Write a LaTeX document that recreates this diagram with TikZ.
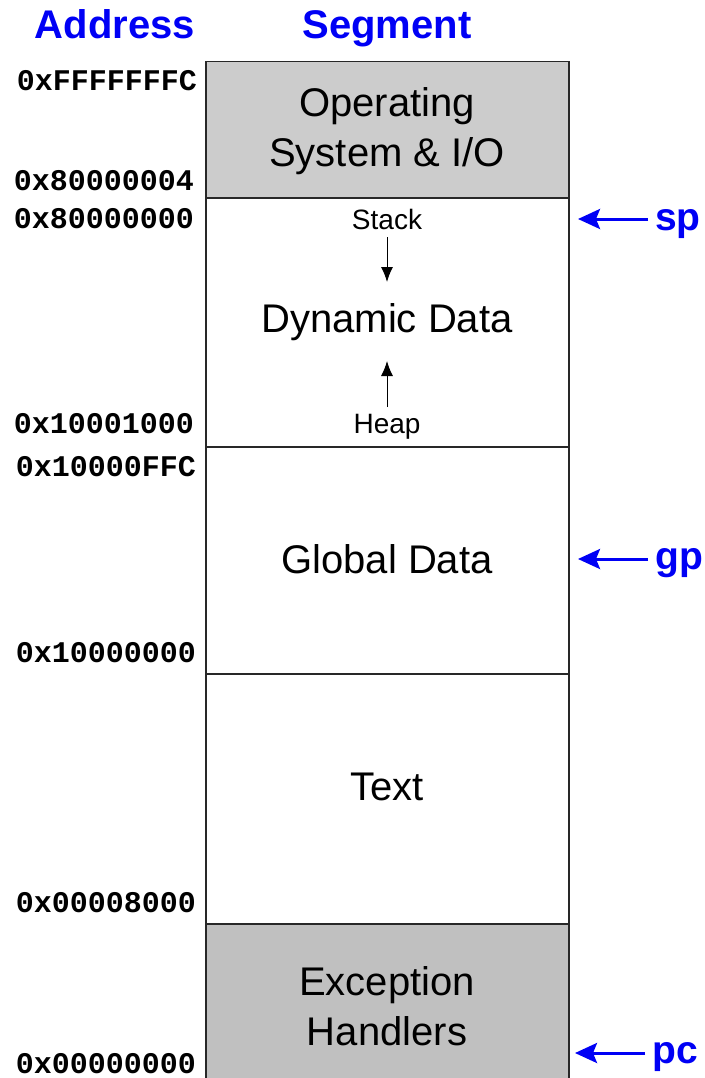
\documentclass[tikz,border=0pt]{standalone}
\usepackage{fontspec}
\setmainfont{Liberation Sans}
\setmonofont{Liberation Mono}
\usepackage{tikz}
\usetikzlibrary{arrows.meta, positioning}
\definecolor{headblue}{RGB}{0, 0, 245}
\definecolor{osgray}{RGB}{204, 204, 204}
\definecolor{excgray}{RGB}{192, 192, 192}
\definecolor{edgegray}{RGB}{40, 40, 40}

\begin{document}
\begin{tikzpicture}[
    x=1pt, y=-1pt,
    header/.style={text=headblue, anchor=base, inner sep=0pt, font=\fontsize{40}{44}\selectfont\bfseries},
    addr/.style={anchor=base east, inner sep=0pt, font=\fontsize{30}{32}\selectfont\ttfamily\bfseries},
    segment/.style={rectangle, draw=edgegray, line width=1.5pt, minimum width=363pt, anchor=north west, inner sep=0pt},
    seglabel/.style={anchor=base, inner sep=0pt, align=center, font=\fontsize{40}{50}\selectfont},
    small/.style={anchor=base, inner sep=0pt, font=\fontsize{28}{30}\selectfont},
    growarrow/.style={-{Latex[length=15pt, width=12pt]}, line width=1pt},
    reg/.style={text=headblue, anchor=base west, inner sep=0pt, font=\fontsize{39}{42}\selectfont\bfseries},
    ptr/.style={-{Stealth[length=22pt, width=20pt, inset=4pt]}, draw=headblue, line width=3pt}
]
    \useasboundingbox (0,0) rectangle (704,1078);

    % Column headers
    \node (haddr) [header] at (115,39) {Address};
    \node (hseg) [header] at (387,39) {Segment};

    % Segments
    \node (os) [segment, fill=osgray, minimum height=136pt] at (205,61) {};
    \node (dyn) [segment, minimum height=249pt] at (205,197) {};
    \node (glob) [segment, minimum height=227pt] at (205,446) {};
    \node (text) [segment, minimum height=250pt] at (205,673) {};
    \node (exc) [segment, fill=excgray, minimum height=170pt] at (205,923) {};

    % Segment labels (base = last line)
    \node (oslabel) [seglabel] at (387,167) {Operating\\System \& I/O};
    \node (dynlabel) [seglabel] at (387,332) {Dynamic Data};
    \node (globlabel) [seglabel] at (387,573) {Global Data};
    \node (textlabel) [seglabel] at (387,800) {Text};
    \node (exclabel) [seglabel] at (387,1045) {Exception\\Handlers};

    % Stack and heap
    \node (stack) [small] at (387,229) {Stack};
    \node (heap) [small] at (387,433) {Heap};
    \coordinate (stacktop) at (387,237);
    \coordinate (stackend) at (387,282);
    \coordinate (heapbot) at (387,407);
    \coordinate (heapend) at (387,361);
    \draw [growarrow] (stacktop) -- (stackend);
    \draw [growarrow] (heapbot) -- (heapend);

    % Addresses
    \node (a1) [addr] at (197,91) {0xFFFFFFFC};
    \node (a2) [addr] at (194,190) {0x80000004};
    \node (a3) [addr] at (194,228) {0x80000000};
    \node (a4) [addr] at (194,433) {0x10001000};
    \node (a5) [addr] at (196,476) {0x10000FFC};
    \node (a6) [addr] at (196,662) {0x10000000};
    \node (a7) [addr] at (196,912) {0x00008000};
    \node (a8) [addr] at (196,1073) {0x00000000};

    % Register pointers
    \node (sp) [reg] at (655,230) {sp};
    \node (gp) [reg] at (655,569) {gp};
    \node (pc) [reg] at (652,1063) {pc};
    \coordinate (sptail) at (648,219);
    \coordinate (sptip) at (578,219);
    \coordinate (gptail) at (648,559);
    \coordinate (gptip) at (578,559);
    \coordinate (pctail) at (645,1053);
    \coordinate (pctip) at (575,1053);
    \draw [ptr] (sptail) -- (sptip);
    \draw [ptr] (gptail) -- (gptip);
    \draw [ptr] (pctail) -- (pctip);

\end{tikzpicture}
\end{document}
